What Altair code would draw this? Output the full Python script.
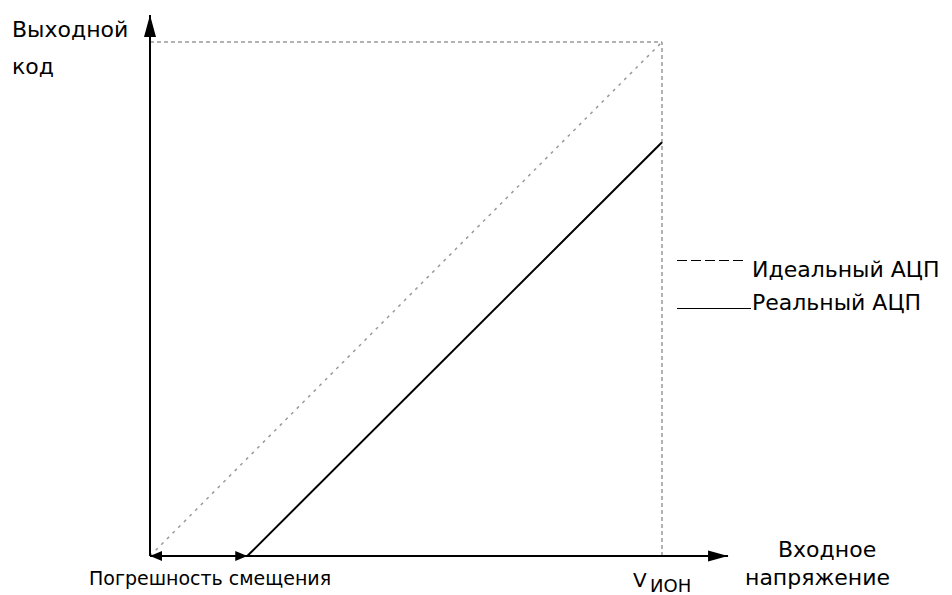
import altair as alt
import pandas as pd

# ---- values (input in units of V_ref, output code in units of full scale)
vref = 1.0                 # V_ИОН on the input axis
code_max = 1.0             # full-scale output code
offset_error = 0.19        # offset error (real ADC starts here)
real_code_at_vref = 0.805  # real ADC output at V_ИОН
x_axis_len = 1.129         # x arrow tip
y_axis_len = 1.0525        # y arrow tip

labels_y = ["Выходной", "код"]
labels_x = ["Входное", "напряжение"]
legend_labels = ["Идеальный АЦП", "Реальный АЦП"]
offset_label = "Погрешность смещения"
vref_label = ["V", "ИОН"]

W, H = 936, 587
X_DOMAIN = [-142 / 512, (W - 142) / 512]
Y_DOMAIN = [-(H - 548) / 514, 548 / 514]

xs = alt.Scale(domain=X_DOMAIN, nice=False, zero=False)
ys = alt.Scale(domain=Y_DOMAIN, nice=False, zero=False)
FONT = "DejaVu Sans"


def seg_df(segs):
    return pd.DataFrame(segs, columns=["x", "y", "x2", "y2"])


def seg_layer(df, **mark):
    return alt.Chart(df).mark_rule(**mark).encode(
        x=alt.X("x:Q", scale=xs, axis=None),
        y=alt.Y("y:Q", scale=ys, axis=None),
        x2="x2:Q",
        y2="y2:Q",
    )


axes = seg_df([(0, 0, x_axis_len, 0), (0, 0, 0, y_axis_len)])
guides = seg_df([(0, code_max, vref, code_max), (vref, 0, vref, code_max)])
ideal = seg_df([(0, 0, vref, code_max)])
real = seg_df([(offset_error, 0, vref, real_code_at_vref)])

layers = [
    seg_layer(guides, color="#999999", strokeWidth=1.5, strokeDash=[4, 3]),
    seg_layer(ideal, color="#999999", strokeWidth=1.5, strokeDash=[3, 5]),
    seg_layer(axes, color="black", strokeWidth=2),
    seg_layer(real, color="black", strokeWidth=2),
]


def arrow(x, y, path, size):
    df = pd.DataFrame({"x": [x], "y": [y]})
    return alt.Chart(df).mark_point(
        shape=path, size=size, filled=True, color="black", opacity=1, strokeWidth=0
    ).encode(x=alt.X("x:Q", scale=xs, axis=None), y=alt.Y("y:Q", scale=ys, axis=None))


layers += [
    arrow(0, y_axis_len, "M0,0L0.6,2.2L-0.6,2.2Z", 400),
    arrow(x_axis_len, 0, "M0,0L-2,-0.55L-2,0.55Z", 400),
    arrow(0, 0, "M0,0L1.2,-0.5L1.2,0.5Z", 400),
    arrow(offset_error, 0, "M0,0L-1.2,-0.5L-1.2,0.5Z", 400),
]

# legend samples
layers += [
    alt.Chart(pd.DataFrame({"k": [0]})).mark_rule(color="black", strokeWidth=1, strokeDash=[10, 4]).encode(
        x=alt.value(669), x2=alt.value(737), y=alt.value(252.5)
    ),
    alt.Chart(pd.DataFrame({"k": [0]})).mark_rule(color="black", strokeWidth=1).encode(
        x=alt.value(669), x2=alt.value(743), y=alt.value(300.5)
    ),
]


def txt(s, x, y, size=22):
    return alt.Chart(pd.DataFrame({"t": [s]})).mark_text(
        align="left", baseline="alphabetic", font=FONT, fontSize=size, color="black"
    ).encode(text="t:N", x=alt.value(x), y=alt.value(y))


layers += [
    txt(labels_y[0], 4, 29),
    txt(labels_y[1], 4, 66),
    txt(offset_label, 81, 577, 19),
    txt(vref_label[0], 625, 579, 20),
    txt(vref_label[1], 642, 584, 18),
    txt(labels_x[0], 770, 549),
    txt(labels_x[1], 737, 577),
    txt(legend_labels[0], 744, 269),
    txt(legend_labels[1], 744, 302),
]

chart = alt.layer(*layers).properties(
    width=W, height=H, padding=0, autosize=alt.AutoSizeParams(type="none")
).configure_view(stroke=None)

chart.save("out.html", embed_options={"renderer": "svg", "actions": False})
